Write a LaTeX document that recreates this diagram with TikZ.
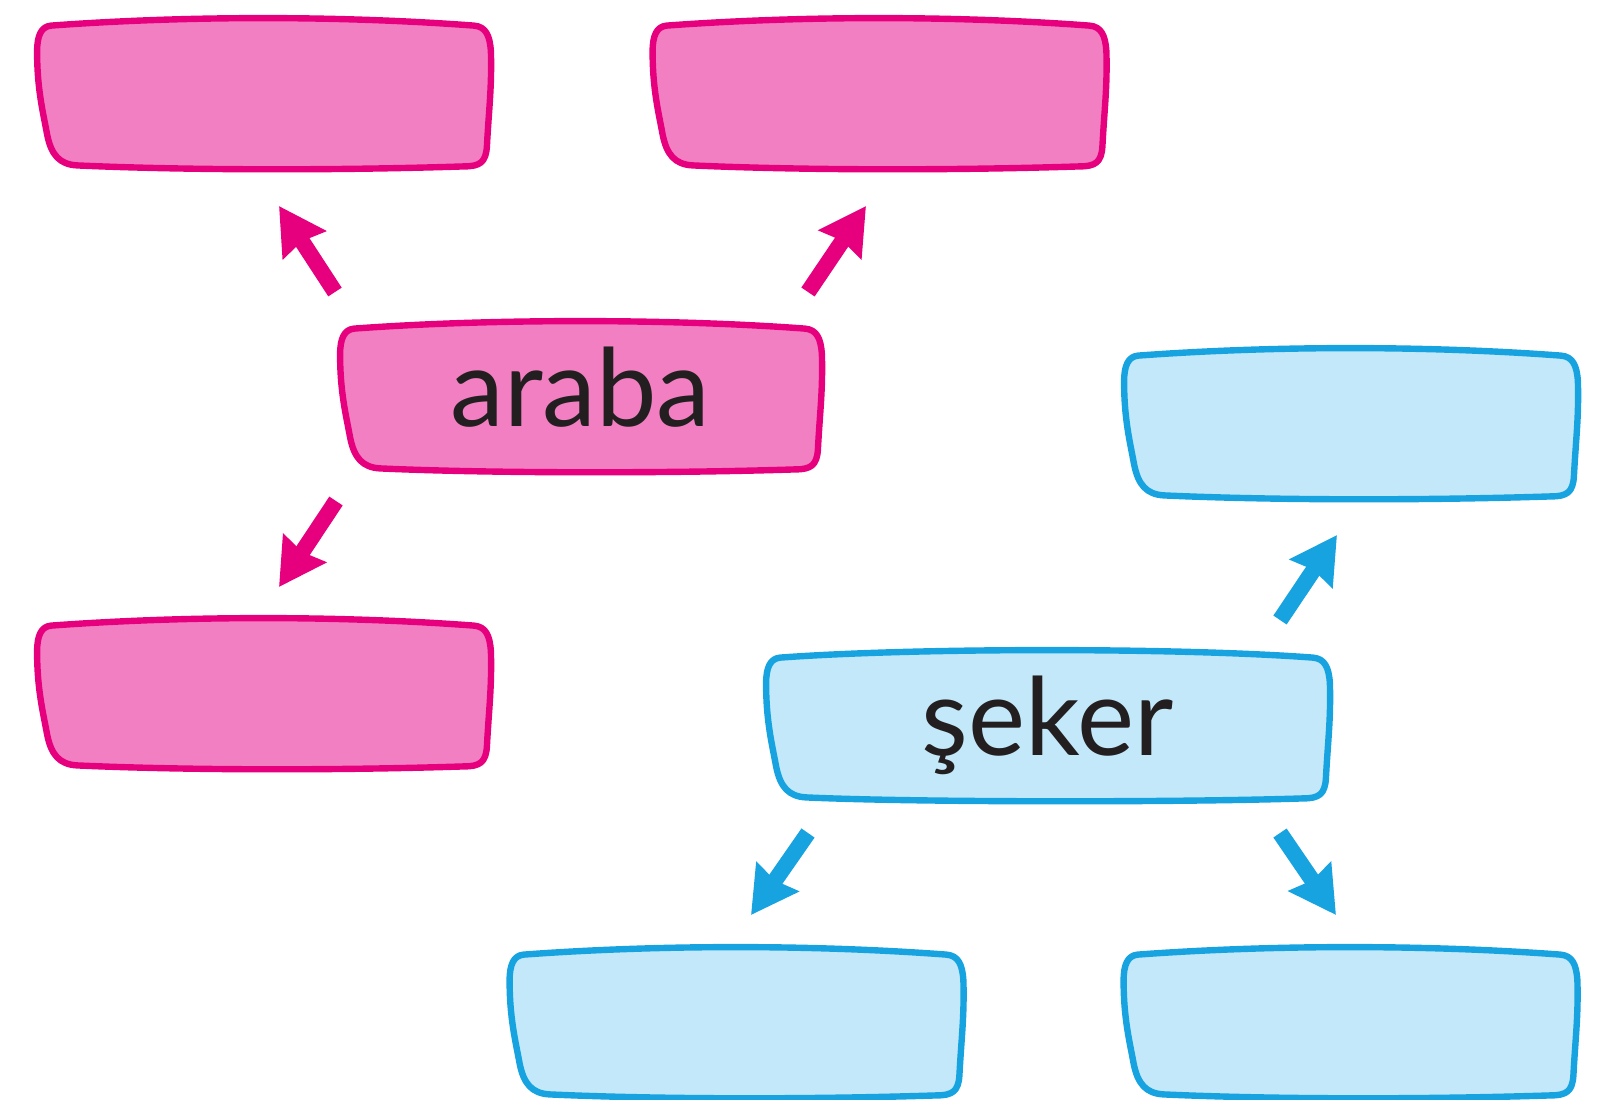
\documentclass[tikz,border=0pt]{standalone}
\usepackage{fontspec}
\setmainfont{Lato}
\usetikzlibrary{calc,arrows.meta,backgrounds}
\definecolor{pinkfill}{HTML}{F37FC3}
\definecolor{pinkline}{HTML}{E6007E}
\definecolor{bluefill}{HTML}{C2E8F9}
\definecolor{blueline}{HTML}{17A2E0}
\definecolor{inkc}{HTML}{231F20}
\newcommand\wobble[2]{%
  \path[#2]
   ($(#1.north west)+(14,8)$)
   .. controls ($(#1.north west)+(150,-2)$) and ($(#1.north east)+(-150,-2)$) .. ($(#1.north east)+(-16,8)$)
   .. controls ($(#1.north east)+(-4,9)$) and ($(#1.north east)+(0,18)$) .. ($(#1.north east)+(1,34)$)
   .. controls ($(#1.north east)+(2,70)$) and ($(#1.south east)+(-1,-60)$) .. ($(#1.south east)+(-3,-22)$)
   .. controls ($(#1.south east)+(-4,-6)$) and ($(#1.south east)+(-10,-2)$) .. ($(#1.south east)+(-26,-2)$)
   .. controls ($(#1.south east)+(-150,2)$) and ($(#1.south west)+(150,2)$) .. ($(#1.south west)+(40,-3)$)
   .. controls ($(#1.south west)+(22,-4)$) and ($(#1.south west)+(14,-14)$) .. ($(#1.south west)+(10,-34)$)
   .. controls ($(#1.south west)+(6,-56)$) and ($(#1.north west)+(0,72)$) .. ($(#1.north west)+(0,34)$)
   .. controls ($(#1.north west)+(0,18)$) and ($(#1.north west)+(4,9)$) .. cycle;
}
\tikzset{
  x=0.5pt, y=-0.5pt,
  slot/.style={rectangle, inner sep=0pt, minimum width=226pt, minimum height=75pt,
    text=inkc, font=\fontsize{54}{60}\selectfont, text height=40pt, text depth=10pt},
  pinkshape/.style={fill=pinkfill, draw=pinkline, line width=3.2pt, line join=round},
  blueshape/.style={fill=bluefill, draw=blueline, line width=3.2pt, line join=round},
  parrow/.style={draw=pinkline, line width=8pt, -{Stealth[length=23pt,width=25pt,inset=2pt]}},
  barrow/.style={draw=blueline, line width=8pt, -{Stealth[length=23pt,width=25pt,inset=2pt]}},
}
\begin{document}
\begin{tikzpicture}
\useasboundingbox (0,0) rectangle (1618,1099);
% pink nodes
\node[slot] (tl) at (263.5,93) {};
\node[slot] (tm) at (879,93) {};
\node[slot, minimum width=240pt] (araba) at (580.5,396) {araba};
\node[slot] (bl) at (263.5,693) {};
% blue nodes
\node[slot] (br1) at (1350.5,423) {};
\node[slot, minimum width=281pt] (seker) at (1047.5,725) {şeker};
\node[slot] (bb1) at (736,1022) {};
\node[slot] (bb2) at (1350,1022) {};
% outlines
\begin{scope}[on background layer]
\wobble{tl}{pinkshape}
\wobble{tm}{pinkshape}
\wobble{bl}{pinkshape}
\wobble{br1}{blueshape}
\wobble{bb1}{blueshape}
\wobble{bb2}{blueshape}
\wobble{araba}{pinkshape}
\wobble{seker}{blueshape}
\end{scope}
% arrow end points
\coordinate (a1s) at (335,292); \coordinate (a1e) at (279,206);
\coordinate (a2s) at (808,292); \coordinate (a2e) at (866,206);
\coordinate (a3s) at (336,501); \coordinate (a3e) at (279,587);
\coordinate (b1s) at (1280,620); \coordinate (b1e) at (1337,535);
\coordinate (b2s) at (808,833); \coordinate (b2e) at (751,915);
\coordinate (b3s) at (1280,833); \coordinate (b3e) at (1336,915);
\draw[parrow] (a1s) -- (a1e);
\draw[parrow] (a2s) -- (a2e);
\draw[parrow] (a3s) -- (a3e);
\draw[barrow] (b1s) -- (b1e);
\draw[barrow] (b2s) -- (b2e);
\draw[barrow] (b3s) -- (b3e);
\end{tikzpicture}
\end{document}
